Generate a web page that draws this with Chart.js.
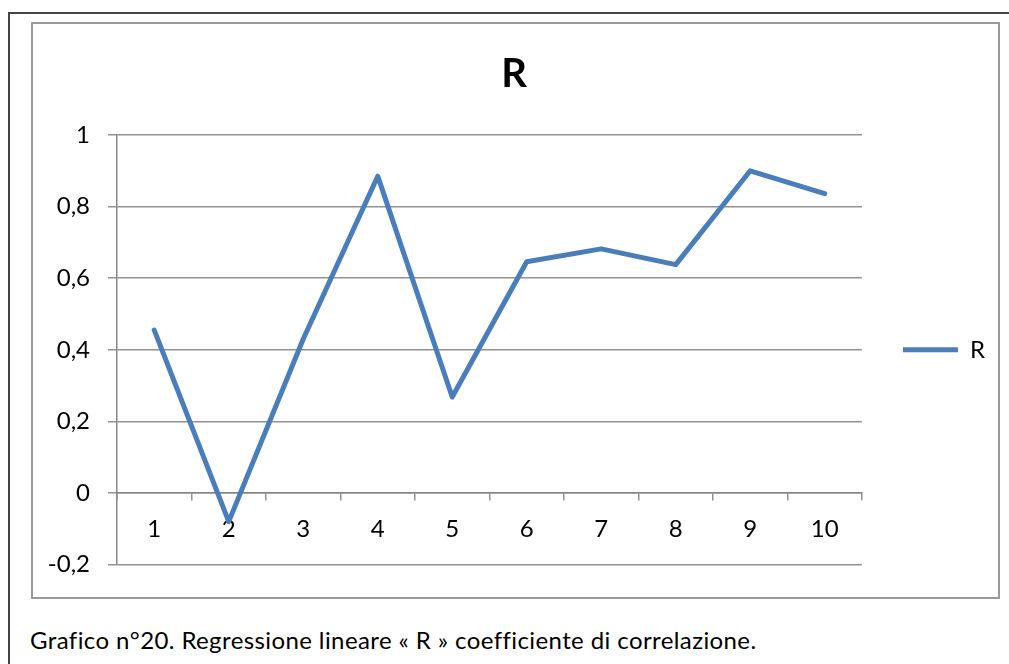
<!DOCTYPE html>
<html>
<head>
<meta charset="utf-8">
<script src="https://cdn.jsdelivr.net/npm/chart.js@4/dist/chart.umd.min.js"></script>
<style>
  body { margin: 0; background: #fff; width: 1009px; height: 664px; overflow: hidden; position: relative; }
  #outer { position: absolute; left: 8px; top: 12px; width: 1100px; height: 800px; border: 2px solid #444; }
  #frame { position: absolute; left: 31px; top: 22px; width: 969px; height: 577px; box-sizing: border-box; border: 2px solid #9a9a9a; }
  #wrap { position: absolute; left: 33px; top: 24px; width: 965px; height: 573px; }
  #caption { position: absolute; left: 30px; top: 625px; font-family: Lato, sans-serif; font-size: 24px; letter-spacing: 0.4px; color: #000; white-space: nowrap; }
</style>
</head>
<body>
<div id="outer"></div>
<div id="frame"></div>
<div id="wrap"><canvas id="chartR"></canvas></div>
<div id="caption">Grafico n°20. Regressione lineare « R » coefficiente di correlazione.</div>

<script>
// categories (x) and the R values
const categories = ['1', '2', '3', '4', '5', '6', '7', '8', '9', '10'];
const rValues = [0.455, -0.08, 0.43, 0.885, 0.268, 0.646, 0.682, 0.638, 0.9, 0.836];
// y axis range
const yMin = -0.2;
const yMax = 1;
const yStep = 0.2;

const gridColor = '#929292';
const fontName = 'Lato';

const ctx = document.getElementById('chartR').getContext('2d');
const chartR = new Chart(ctx, {
  type: 'line',
  data: {
    labels: categories,
    datasets: [{
      label: 'R',
      data: rValues,
      borderColor: '#4a7ebb',
      backgroundColor: '#4a7ebb',
      borderWidth: 5,
      pointRadius: 0,
      tension: 0,
      borderJoinStyle: 'round',
      borderCapStyle: 'round',
      fill: false
    }]
  },
  options: {
    responsive: true,
    maintainAspectRatio: false,
    animation: false,
    layout: { padding: { left: 0, right: 3, top: 0, bottom: 30 } },
    plugins: {
      title: {
        display: true,
        text: 'R',
        color: '#000',
        font: { family: fontName, size: 40, weight: 'bold' },
        padding: { top: 26, bottom: 37 }
      },
      legend: {
        position: 'right',
        align: 'center',
        fullSize: false, // keep it beside the plot so it centres on it
        labels: {
          usePointStyle: true,
          pointStyle: 'line',
          pointStyleWidth: 55,
          color: '#000',
          padding: 41,
          font: { family: fontName, size: 24 }
        }
      },
      tooltip: { enabled: false }
    },
    scales: {
      x: {
        position: { y: 0 },
        offset: true,
        afterFit: function(scale) { scale.height = 0; }, // x axis sits on the zero line
        grid: { offset: true, drawOnChartArea: false, drawTicks: true, tickLength: 7, color: gridColor, lineWidth: 1.5 },
        border: { display: true, color: '#868686', width: 1.5 },
        ticks: { color: '#000', padding: 15, maxRotation: 0, font: { family: fontName, size: 24 } }
      },
      y: {
        min: yMin,
        max: yMax,
        afterFit: function(scale) { scale.width = 84; },
        grid: { color: gridColor, lineWidth: 1.5, tickLength: 9 },
        border: { display: true, color: '#868686', width: 1.5 },
        ticks: {
          stepSize: yStep,
          color: '#000',
          padding: 18,
          font: { family: fontName, size: 24 },
          callback: function(v) { return String(Math.round(v * 10) / 10).replace('.', ','); }
        }
      }
    }
  }
});
</script>
</body>
</html>
